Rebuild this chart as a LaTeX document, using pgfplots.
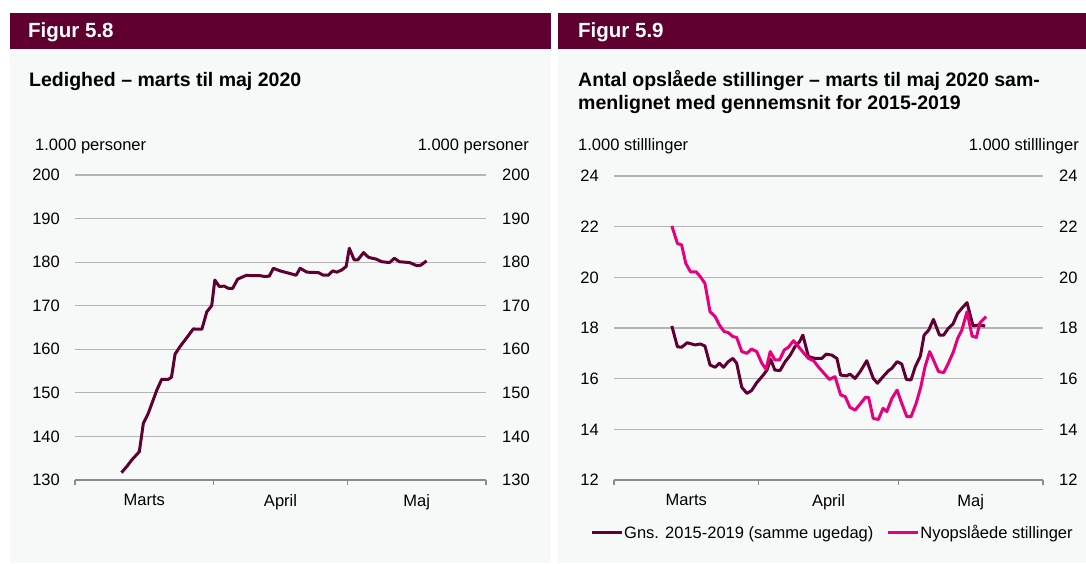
\documentclass[border=0pt]{standalone}
\usepackage{pgfplots}
\pgfplotsset{compat=1.18}
\usepackage{fontspec}
\setmainfont{Liberation Sans}
\definecolor{hdr}{HTML}{600030}
\definecolor{pinkc}{HTML}{E6007E}
\definecolor{bg}{HTML}{F7F8F8}
\definecolor{gridc}{HTML}{B4B4B4}
\definecolor{axc}{HTML}{8C8C8C}

\pgfplotsset{
 base/.style={scale only axis, xmin=0, xmax=92,
   axis lines*=left, y axis line style={draw=none},
   x axis line style={axc, line width=1.3pt},
   xtick={0,31,61,92}, xticklabels={}, xtick align=outside,
   major tick length=5pt, xtick style={axc, line width=1.3pt},
   ymajorgrids, grid style={gridc, line width=1.2pt}, ytick style={draw=none},
   every tick label/.append style={font=\fontsize{16.5}{19}\selectfont, text=black},
   /pgf/number format/assume math mode=true,
   yticklabel style={inner sep=0pt, anchor=east, xshift=-15pt},
   extra x ticks={15.5,46,76.5}, extra x tick labels={Marts,April,Maj},
   extra x tick style={major tick length=0pt, xticklabel style={inner sep=0pt, anchor=north, yshift=-14pt}},
 },
 rlab/.style={scale only axis, xmin=0, xmax=92, hide x axis,
   axis y line*=right, y axis line style={draw=none}, ytick style={draw=none},
   every tick label/.append style={font=\fontsize{16.5}{19}\selectfont, text=black},
   /pgf/number format/assume math mode=true,
   yticklabel style={inner sep=0pt, anchor=west, xshift=16pt},
 },
}

\begin{document}
\begin{tikzpicture}[x=1pt,y=1pt]
\useasboundingbox (0,0) rectangle (1086,563);
\fill[white] (0,0) rectangle (1086,563);
\fill[bg] (10,0) rectangle (550.5,550);
\fill[bg] (558,0) rectangle (1086,550);
\fill[hdr] (10,514) rectangle (550.5,550);
\fill[hdr] (558,514) rectangle (1086,550);
\node[anchor=base west, inner sep=0pt, text=white, font=\bfseries\fontsize{20.5}{23}\selectfont] at (28,525) {Figur 5.8};
\node[anchor=base west, inner sep=0pt, text=white, font=\bfseries\fontsize{20.5}{23}\selectfont] at (578,525) {Figur 5.9};
\node[anchor=base west, inner sep=0pt, font=\bfseries\fontsize{19.5}{23}\selectfont] at (29,476) {Ledighed – marts til maj 2020};
\node[anchor=base west, inner sep=0pt, font=\bfseries\fontsize{19.5}{23}\selectfont] at (578,476) {Antal opslåede stillinger – marts til maj 2020 sam-};
\node[anchor=base west, inner sep=0pt, font=\bfseries\fontsize{19.5}{23}\selectfont] at (578,453) {menlignet med gennemsnit for 2015-2019};
\node[anchor=base west, inner sep=0pt, font=\fontsize{16.5}{19}\selectfont] at (35,412) {1.000 personer};
\node[anchor=base east, inner sep=0pt, font=\fontsize{16.5}{19}\selectfont] at (529,412) {1.000 personer};
\node[anchor=base west, inner sep=0pt, font=\fontsize{16.5}{19}\selectfont] at (578,412) {1.000 stilllinger};
\node[anchor=base east, inner sep=0pt, font=\fontsize{16.5}{19}\selectfont] at (1079,412) {1.000 stilllinger};

\coordinate (L) at (75,83);
\coordinate (R) at (614,83);

\begin{axis}[base, at={(L)}, anchor=south west, width=411pt, height=305pt,
  ymin=130, ymax=200, ytick={130,140,...,200}]
\addplot[hdr, line width=3pt, line join=round] coordinates {
(10.4,131.7)(11.6,133.1)(12.7,134.6)(14.4,136.5)(15.3,143.0)(16.4,145.3)(18.3,150.6)(19.4,153.1)
(20.9,153.1)(21.6,153.6)(22.4,158.9)(23.5,160.6)(24.6,162.1)(26.5,164.7)(27.2,164.6)(28.4,164.6)
(29.5,168.6)(30.6,170.0)(31.3,175.9)(32.3,174.4)(33.4,174.5)(34.3,174.0)(35.3,174.0)(36.4,176.1)
(38.4,177.0)(39.6,176.9)(41.4,176.9)(42.5,176.7)(43.5,176.8)(44.4,178.6)(45.9,178.0)(48.1,177.4)
(49.5,177.0)(50.4,178.6)(51.9,177.7)(54.5,177.6)(55.6,177.0)(56.7,177.0)(57.7,178.0)(58.6,177.7)
(59.7,178.2)(60.7,179.0)(61.4,183.2)(62.5,180.5)(63.3,180.5)(64.6,182.2)(65.7,181.1)(67.4,180.7)
(68.7,180.1)(70.4,179.9)(71.5,180.9)(72.6,180.1)(74.9,179.9)(76.5,179.2)(77.4,179.3)(78.7,180.3)
};
\end{axis}
\begin{axis}[rlab, at={(L)}, anchor=south west, width=411pt, height=305pt,
  ymin=130, ymax=200, ytick={130,140,...,200}]
\end{axis}

\begin{axis}[base, at={(R)}, anchor=south west, width=429pt, height=304pt,
  ymin=12, ymax=24, ytick={12,14,...,24},
  legend style={draw=none, fill=none, at={(0.508,-0.174)}, anchor=center,
    font=\fontsize{16.5}{19}\selectfont, nodes={inner sep=1pt},
    /tikz/every even column/.append style={column sep=12pt}},
  legend columns=2, legend cell align=left,
  legend image code/.code={\draw[#1] (0pt,0pt) -- (30pt,0pt);}]
\addplot[hdr, line width=3pt, line join=round] coordinates {
(12.4,18.08)(13.6,17.26)(14.5,17.24)(15.7,17.42)(17.4,17.33)(18.5,17.37)(19.5,17.29)(20.6,16.54)
(21.7,16.45)(22.6,16.61)(23.5,16.45)(24.5,16.67)(25.5,16.80)(26.3,16.61)(27.4,15.66)(28.5,15.42)
(29.5,15.53)(30.6,15.84)(32.0,16.14)(32.8,16.34)(33.6,16.76)(34.5,16.34)(35.6,16.32)(36.7,16.67)
(37.8,16.93)(38.8,17.26)(39.8,17.46)(40.5,17.72)(41.7,16.87)(43.1,16.80)(44.6,16.80)(45.5,16.97)
(46.7,16.93)(47.8,16.80)(48.6,16.14)(49.9,16.11)(50.6,16.18)(51.7,16.01)(52.8,16.28)(54.2,16.71)
(55.6,16.01)(56.5,15.82)(57.7,16.08)(58.9,16.32)(59.6,16.41)(60.7,16.67)(61.7,16.58)(62.7,15.97)
(63.7,15.95)(64.6,16.47)(65.7,16.89)(66.5,17.72)(67.5,17.92)(68.5,18.34)(69.8,17.72)(70.7,17.72)
(71.7,17.99)(72.7,18.16)(73.7,18.58)(74.6,18.78)(75.7,19.00)(77.0,18.08)(78.2,18.12)(79.6,18.08)
};
\addlegendentry{Gns. 2015-2019 (samme ugedag)}
\addplot[pinkc, line width=3pt, line join=round] coordinates {
(12.4,22.03)(13.6,21.34)(14.5,21.28)(15.4,20.55)(16.4,20.22)(17.6,20.22)(18.5,20.03)(19.5,19.76)
(20.6,18.64)(21.7,18.45)(22.6,18.12)(23.6,17.86)(24.5,17.82)(25.5,17.66)(26.3,17.63)(27.4,17.07)
(28.5,17.00)(29.5,17.17)(30.6,17.07)(31.7,16.61)(32.6,16.37)(33.5,17.07)(34.5,16.74)(35.5,16.74)
(36.5,17.13)(37.4,17.24)(38.5,17.50)(39.6,17.26)(40.6,17.03)(41.7,16.80)(42.8,16.71)(43.8,16.47)
(44.9,16.24)(46.2,15.97)(47.4,16.08)(48.6,15.36)(49.6,15.29)(50.6,14.87)(51.7,14.76)(52.8,15.00)
(53.9,15.26)(54.6,15.26)(55.6,14.43)(56.7,14.39)(57.7,14.83)(58.5,14.70)(59.6,15.22)(60.7,15.55)
(61.7,15.03)(62.8,14.50)(63.7,14.50)(64.8,15.03)(65.8,15.68)(66.7,16.47)(67.7,17.07)(68.5,16.74)
(69.6,16.28)(70.7,16.24)(71.7,16.61)(72.8,17.07)(73.7,17.59)(74.6,17.92)(75.7,18.64)(76.8,17.68)
(77.7,17.63)(78.5,18.21)(79.8,18.45)
};
\addlegendentry{Nyopslåede stillinger}
\end{axis}
\begin{axis}[rlab, at={(R)}, anchor=south west, width=429pt, height=304pt,
  ymin=12, ymax=24, ytick={12,14,...,24}]
\end{axis}
\end{tikzpicture}
\end{document}
